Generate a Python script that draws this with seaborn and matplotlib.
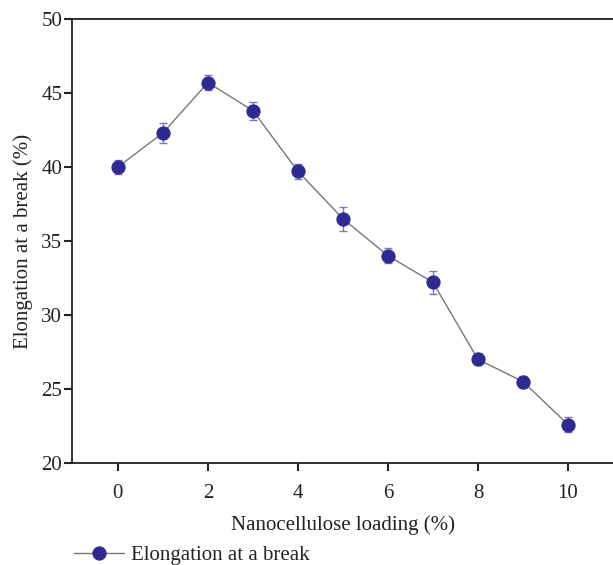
import matplotlib
matplotlib.use("Agg")
import matplotlib.pyplot as plt
import seaborn as sns
import pandas as pd

loading = [0, 1, 2, 3, 4, 5, 6, 7, 8, 9, 10]
elongation = [40.0, 42.3, 45.7, 43.8, 39.7, 36.5, 34.0, 32.2, 27.0, 25.5, 22.6]
errors = [0.5, 0.7, 0.5, 0.6, 0.5, 0.8, 0.5, 0.75, 0.4, 0.4, 0.5]
xticks = [0, 2, 4, 6, 8, 10]
yticks = [20, 25, 30, 35, 40, 45, 50]

sns.set_theme(style="ticks")
plt.rcParams['font.family'] = ['Liberation Serif', 'DejaVu Serif']

df = pd.DataFrame({"loading": loading, "elongation": elongation})

fig = plt.figure(figsize=(6.13, 5.65), dpi=100)
ax = fig.add_axes([0.1175, 0.1805, 0.8825, 0.786])

ax.errorbar(loading, elongation, yerr=errors, fmt='none', ecolor='#7a78c0',
            elinewidth=1.0, capsize=3, capthick=1.0, zorder=2)
sns.lineplot(data=df, x="loading", y="elongation", ax=ax, color='#777777',
             linewidth=1.0, marker='o', markersize=9.5, markerfacecolor='#2e2a92',
             markeredgecolor='#2e2a92', label='Elongation at a break', zorder=3)

ax.set_xlim(-1.02, 11.0)
ax.set_ylim(20, 50)
ax.set_xticks(xticks)
ax.set_yticks(yticks)
ax.tick_params(axis='both', labelsize=15, colors='#222222', direction='out',
               length=6, width=1.5)
ax.tick_params(axis='x', pad=9)
ax.tick_params(axis='y', pad=1)
ax.set_xlabel("Nanocellulose loading (%)", fontsize=15, labelpad=9, color='#222222')
ax.set_ylabel("Elongation at a break (%)", fontsize=15, labelpad=6, color='#222222')

for s in ['left', 'bottom', 'top']:
    ax.spines[s].set_linewidth(1.3)
    ax.spines[s].set_color('#222222')
ax.spines['right'].set_visible(False)

leg = ax.legend(loc='lower left', bbox_to_anchor=(0.12, 0.0), bbox_transform=fig.transFigure,
                frameon=False, fontsize=15, handlelength=2.4, handletextpad=0.35,
                borderpad=0, borderaxespad=0)

fig.savefig("out.png", dpi=100)
